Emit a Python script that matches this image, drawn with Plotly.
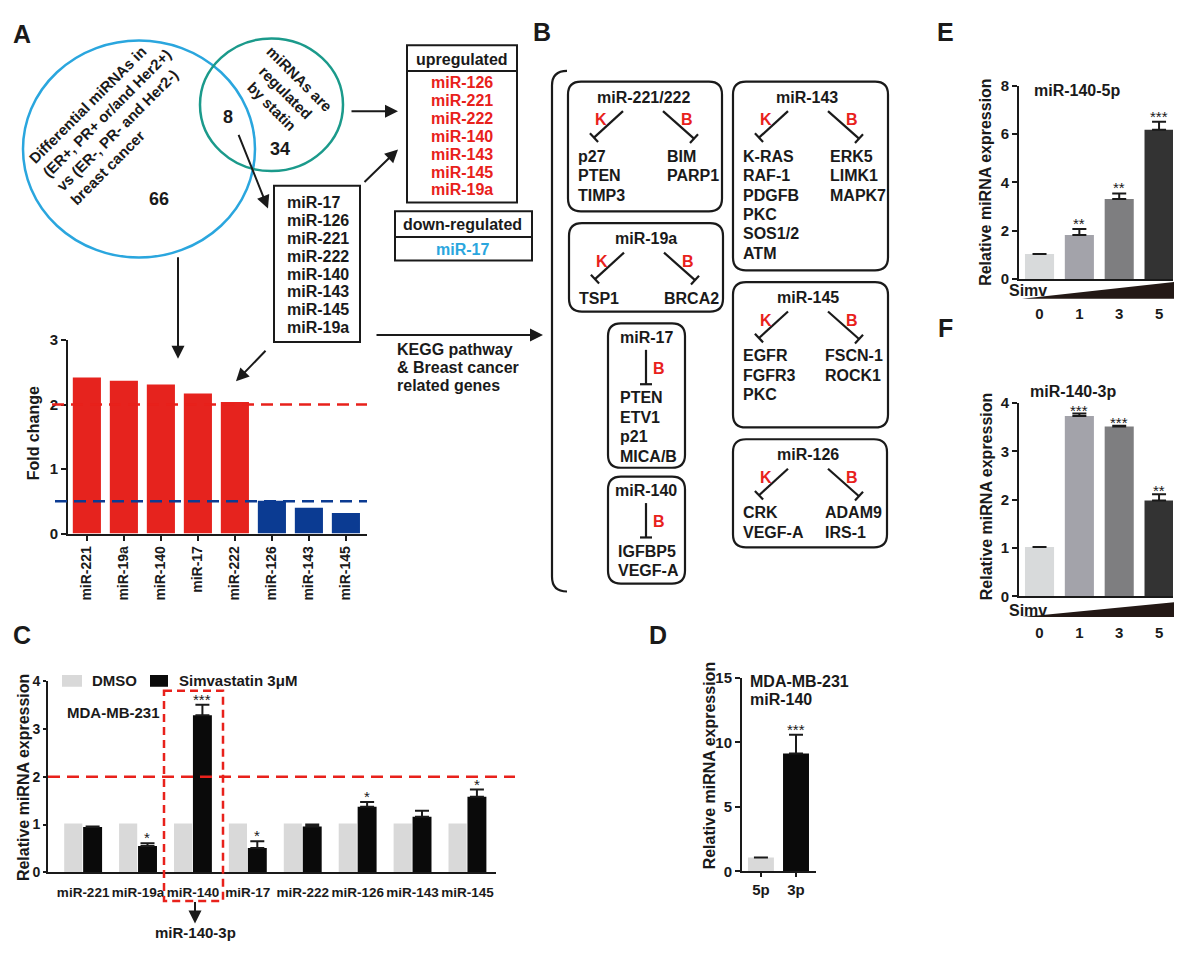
import math
import plotly.graph_objects as go

W, H = 1200, 959
FONT = "Liberation Sans, Arial, Helvetica, sans-serif"
INK = "#1a1a1a"
RED = "#e8211b"
BAR_RED = "#e6231e"
BAR_BLUE = "#0b3b92"
LBLUE = "#2aa6de"
TEAL = "#1b9a8b"

# ---------------- data ----------------
venn_left_label = ["Differential miRNAs in", "(ER+, PR+ or/and Her2+)",
                   "vs (ER-, PR- and Her2-)", "breast cancer"]
venn_right_label = ["miRNAs are", "regulated", "by statin"]
venn_left_only = 66
venn_overlap = 8
venn_right_only = 34
overlap_mirnas = ["miR-17", "miR-126", "miR-221", "miR-222",
                  "miR-140", "miR-143", "miR-145", "miR-19a"]
up_mirnas = ["miR-126", "miR-221", "miR-222", "miR-140", "miR-143", "miR-145", "miR-19a"]
down_mirnas = ["miR-17"]
kegg_label = ["KEGG pathway", "& Breast cancer", "related genes"]

a_mirnas = ["miR-221", "miR-19a", "miR-140", "miR-17", "miR-222", "miR-126", "miR-143", "miR-145"]
a_fold = [2.42, 2.37, 2.31, 2.17, 2.04, 0.51, 0.40, 0.32]
a_up_cut = 2.0
a_down_cut = 0.5

c_mirnas = ["miR-221", "miR-19a", "miR-140", "miR-17", "miR-222", "miR-126", "miR-143", "miR-145"]
c_dmso = [1.02, 1.02, 1.02, 1.02, 1.02, 1.02, 1.02, 1.02]
c_simv = [0.95, 0.55, 3.28, 0.51, 0.96, 1.37, 1.16, 1.58]
c_simv_err = [0.01, 0.06, 0.22, 0.14, 0.04, 0.10, 0.13, 0.15]
c_sig = ["", "*", "***", "*", "", "*", "", "*"]
c_cut = 2.0

d_arms = ["5p", "3p"]
d_vals = [1.08, 9.15]
d_err = [0.0, 1.45]
d_sig = ["", "***"]

e_dose = ["0", "1", "3", "5"]
e_vals = [1.04, 1.82, 3.31, 6.18]
e_err = [0.0, 0.25, 0.23, 0.33]
e_sig = ["", "**", "**", "***"]

f_dose = ["0", "1", "3", "5"]
f_vals = [1.02, 3.73, 3.51, 1.98]
f_err = [0.0, 0.05, 0.02, 0.13]
f_sig = ["", "***", "***", "**"]

b221_title, b221_k, b221_b = "miR-221/222", ["p27", "PTEN", "TIMP3"], ["BIM", "PARP1"]
b143_title, b143_k, b143_b = "miR-143", ["K-RAS", "RAF-1", "PDGFB", "PKC", "SOS1/2", "ATM"], ["ERK5", "LIMK1", "MAPK7"]
b19a_title, b19a_k, b19a_b = "miR-19a", ["TSP1"], ["BRCA2"]
b145_title, b145_k, b145_b = "miR-145", ["EGFR", "FGFR3", "PKC"], ["FSCN-1", "ROCK1"]
b126_title, b126_k, b126_b = "miR-126", ["CRK", "VEGF-A"], ["ADAM9", "IRS-1"]
b17_title, b17_b = "miR-17", ["PTEN", "ETV1", "p21", "MICA/B"]
b140_title, b140_b = "miR-140", ["IGFBP5", "VEGF-A"]

# ---------------- helpers ----------------
shapes = []
annotations = []


def X(x):
    return x / W


def Y(y):
    return 1 - y / H


def fnt(size=16, color=INK):
    return dict(family=FONT, size=size, color=color, weight="bold")


def text(x, y, s, size=16, color=INK, xanchor="center", yanchor="middle", angle=0, align="center"):
    annotations.append(dict(x=X(x), y=Y(y), xref="paper", yref="paper", text=s, showarrow=False,
                            font=fnt(size, color), xanchor=xanchor, yanchor=yanchor,
                            textangle=angle, align=align))


def line(x0, y0, x1, y1, color=INK, width=2, dash="solid"):
    shapes.append(dict(type="line", xref="paper", yref="paper", x0=X(x0), y0=Y(y0), x1=X(x1), y1=Y(y1),
                       line=dict(color=color, width=width, dash=dash), layer="above"))


def arrow(x0, y0, x1, y1, width=2):
    annotations.append(dict(x=X(x1), y=Y(y1), xref="paper", yref="paper", ax=x0 - x1, ay=y0 - y1,
                            axref="pixel", ayref="pixel", showarrow=True, arrowhead=2, arrowsize=1.3,
                            arrowwidth=width, arrowcolor=INK, text=""))


def rect(x0, y0, x1, y1, width=2, color=INK, dash="solid", fill=None):
    d = dict(type="rect", xref="paper", yref="paper", x0=X(x0), y0=Y(y0), x1=X(x1), y1=Y(y1),
             line=dict(color=color, width=width, dash=dash), layer="above")
    if fill:
        d["fillcolor"] = fill
    shapes.append(d)


def pt(x, y):
    return f"{X(x):.5f},{Y(y):.5f}"


def rrect(x0, y0, x1, y1, r=13, width=2.2):
    p = (f"M{pt(x0 + r, y0)} L{pt(x1 - r, y0)} Q{pt(x1, y0)} {pt(x1, y0 + r)} "
         f"L{pt(x1, y1 - r)} Q{pt(x1, y1)} {pt(x1 - r, y1)} L{pt(x0 + r, y1)} "
         f"Q{pt(x0, y1)} {pt(x0, y1 - r)} L{pt(x0, y0 + r)} Q{pt(x0, y0)} {pt(x0 + r, y0)} Z")
    shapes.append(dict(type="path", xref="paper", yref="paper", path=p,
                       line=dict(color=INK, width=width), layer="above"))


def tbar(x0, y0, x1, y1, half=6, width=2.2):
    line(x0, y0, x1, y1, width=width)
    dx, dy = x1 - x0, y1 - y0
    L = math.hypot(dx, dy)
    nx, ny = -dy / L, dx / L
    line(x1 - nx * half, y1 - ny * half, x1 + nx * half, y1 + ny * half, width=width)


def split_box(x0, y0, x1, y1, title, kg, bg, right_x, title_x=None, gene_y=76):
    rrect(x0, y0, x1, y1)
    text(title_x if title_x else (x0 + x1) / 2, y0 + 16, title)
    tbar(x0 + 55, y0 + 30, x0 + 26, y0 + 57)
    tbar(x0 + 95, y0 + 30, x0 + 126, y0 + 58)
    text(x0 + 33, y0 + 39, "K", color=RED)
    text(x0 + 119, y0 + 39, "B", color=RED)
    for i, g in enumerate(kg):
        text(x0 + 8, y0 + gene_y + 19.7 * i, g, xanchor="left")
    for i, g in enumerate(bg):
        text(right_x, y0 + gene_y + 19.7 * i, g, xanchor="left")


def single_box(x0, y0, x1, y1, title, bg, gx):
    rrect(x0, y0, x1, y1)
    cx = 646
    text(cx, y0 + 14, title)
    tbar(cx, y0 + 27, cx, y0 + 62)
    text(cx + 5, y0 + 46, "B", color=RED, xanchor="left")
    for i, g in enumerate(bg):
        text(gx, y0 + 76 + 19.7 * i, g, xanchor="left")


# ---------------- panel letters ----------------
for lx, ly, s in [(22, 25, "A"), (542, 23, "B"), (945, 23, "E"), (945, 325, "F"), (22, 637, "C"), (658, 637, "D")]:
    text(lx, ly, s, size=25)

# ---------------- panel A diagram ----------------
shapes.append(dict(type="circle", xref="paper", yref="paper", x0=X(23), x1=X(255), y0=Y(253), y1=Y(32),
                   line=dict(color=LBLUE, width=2.5)))
shapes.append(dict(type="circle", xref="paper", yref="paper", x0=X(200), x1=X(343), y0=Y(165), y1=Y(30),
                   line=dict(color=TEAL, width=2.5)))
text(114, 113, "<br>".join(venn_left_label), size=15, angle=-45, align="left")
text(285, 85, "<br>".join(venn_right_label), size=15, angle=45)
text(228, 110, str(venn_overlap), size=18)
text(280, 143, str(venn_right_only), size=18)
text(159, 193, str(venn_left_only), size=18)

rect(274, 180, 360, 339)
for i, m in enumerate(overlap_mirnas):
    text(285, 197 + 18.2 * i, m, xanchor="left")

rect(407, 37, 517, 197)
line(407, 63, 517, 63)
text(462, 51, "upregulated")
for i, m in enumerate(up_mirnas):
    text(462, 75 + 18.2 * i, m, color=RED)
rect(395, 206, 532, 256)
line(395, 232, 532, 232)
text(463, 219, "down-regulated")
for i, m in enumerate(down_mirnas):
    text(463, 245 + 18 * i, m, color=LBLUE)

arrow(350, 104, 398, 104)
arrow(363, 177, 398, 143)
arrow(238, 128, 268, 203)
arrow(178, 253, 178, 356)
arrow(267, 347, 236, 379)
arrow(375, 332, 543, 332)
for i, s in enumerate(kegg_label):
    text(395, 347 + 18 * i, s, xanchor="left")

# ---------------- panel B diagram ----------------
r = 15
bp = (f"M{pt(567, 63)} L{pt(552 + r, 63)} Q{pt(552, 63)} {pt(552, 63 + r)} L{pt(552, 593 - r)} "
      f"Q{pt(552, 593)} {pt(552 + r, 593)} L{pt(567, 593)}")
shapes.append(dict(type="path", xref="paper", yref="paper", path=bp, line=dict(color=INK, width=2.2)))

split_box(568, 74, 722, 206, b221_title, b221_k, b221_b, 665, title_x=643)
split_box(733, 74, 888, 266, b143_title, b143_k, b143_b, 828, title_x=807)
split_box(569, 218, 723, 308, b19a_title, b19a_k, b19a_b, 662, title_x=646, gene_y=77)
split_box(733, 278, 888, 426, b145_title, b145_k, b145_b, 823, title_x=808, gene_y=75)
split_box(733, 438, 887, 548, b126_title, b126_k, b126_b, 823, title_x=808, gene_y=75)
single_box(608, 320, 685, 467, b17_title, b17_b, 618)
single_box(608, 476, 685, 585, b140_title, b140_b, 616)

# ---------------- charts ----------------
fig = go.Figure()

fig.add_trace(go.Bar(x=a_mirnas, y=a_fold, width=0.76,
                     marker=dict(color=[BAR_RED if v > 1 else BAR_BLUE for v in a_fold], line_width=0),
                     xaxis="x", yaxis="y", showlegend=False))

fig.add_trace(go.Bar(name="DMSO", x=c_mirnas, y=c_dmso, width=0.33, offset=-0.345,
                     marker=dict(color="#d9d9d9", line_width=0), xaxis="x2", yaxis="y2", showlegend=False))
fig.add_trace(go.Bar(name="Simvastatin 3μM", x=c_mirnas, y=c_simv, width=0.345, offset=0.0,
                     marker=dict(color="#0a0a0a", line_width=0),
                     error_y=dict(type="data", array=c_simv_err, arrayminus=[0] * len(c_simv), symmetric=False,
                                  color=INK, thickness=2, width=7),
                     xaxis="x2", yaxis="y2", showlegend=False))

fig.add_trace(go.Bar(x=d_arms, y=d_vals, width=0.74,
                     marker=dict(color=["#d9d9d9", "#0a0a0a"], line_width=0),
                     error_y=dict(type="data", array=d_err, arrayminus=[0] * len(d_err), symmetric=False,
                                  color=INK, thickness=2, width=7),
                     xaxis="x3", yaxis="y3", showlegend=False))

grad = ["#d8dadb", "#a3a3aa", "#7e7e80", "#333333"]
fig.add_trace(go.Bar(x=e_dose, y=e_vals, width=0.73, marker=dict(color=grad, line_width=0),
                     error_y=dict(type="data", array=e_err, arrayminus=[0] * len(e_err), symmetric=False,
                                  color=INK, thickness=2, width=7),
                     xaxis="x4", yaxis="y4", showlegend=False))
fig.add_trace(go.Bar(x=f_dose, y=f_vals, width=0.73, marker=dict(color=grad, line_width=0),
                     error_y=dict(type="data", array=f_err, arrayminus=[0] * len(f_err), symmetric=False,
                                  color=INK, thickness=2, width=7),
                     xaxis="x5", yaxis="y5", showlegend=False))


# significance stars
def stars(sig, vals, errs, xr, yr, dx=0.0, ys=-5):
    for i, s in enumerate(sig):
        if s:
            annotations.append(dict(x=i + dx, y=vals[i] + errs[i], xref=xr, yref=yr, text=s,
                                    showarrow=False, font=dict(family=FONT, size=15, color=INK),
                                    yanchor="bottom", yshift=ys))


stars(c_sig, c_simv, c_simv_err, "x2", "y2", dx=0.17)
stars(d_sig, d_vals, d_err, "x3", "y3")
stars(e_sig, e_vals, e_err, "x4", "y4")
stars(f_sig, f_vals, f_err, "x5", "y5", ys=-7)

# threshold lines
shapes.append(dict(type="line", xref="paper", yref="y", x0=X(52), x1=X(367), y0=a_up_cut, y1=a_up_cut,
                   line=dict(color=RED, width=2.5, dash="12px,7px"), layer="above"))
shapes.append(dict(type="line", xref="paper", yref="y", x0=X(55), x1=X(367), y0=a_down_cut, y1=a_down_cut,
                   line=dict(color=BAR_BLUE, width=2.5, dash="12px,7px"), layer="above"))
shapes.append(dict(type="line", xref="paper", yref="y2", x0=X(48), x1=X(515), y0=c_cut, y1=c_cut,
                   line=dict(color=RED, width=2.5, dash="12px,7px"), layer="above"))
rect(164, 694, 223, 908, width=2.5, color=RED, dash="8px,5px")
arrow(195, 908, 195, 931)
text(195, 940, "miR-140-3p", size=15)

# C legend & labels
rect(62, 678, 82, 690, width=0, fill="#d9d9d9")
text(90, 684, "DMSO", size=15, xanchor="left")
rect(150, 678, 168, 690, width=0, fill="#0a0a0a")
text(177, 684, "Simvastatin 3μM", size=15, xanchor="left")
text(65, 716, "MDA-MB-231", size=15, xanchor="left")

# D labels
text(748, 685, "MDA-MB-231", xanchor="left")
text(748, 703, "miR-140", xanchor="left")

# E/F labels and triangles
text(1032, 83, "miR-140-5p", xanchor="left")
text(1028, 389, "miR-140-3p", xanchor="left")
for yb, yt, ys in [(295, 278, 287), (619, 604, 612)]:
    shapes.append(dict(type="path", xref="paper", yref="paper",
                       path=f"M{pt(1022, yb)} L{pt(1174, yb)} L{pt(1174, yt)} Z",
                       fillcolor="#231815", line=dict(width=0)))
    text(1007, ys, "Simv", xanchor="left")

# y-axis titles
text(33, 432, "Fold change", angle=-90)
text(23, 783, "Relative miRNA expression", angle=-90)
text(709, 771, "Relative miRNA expression", angle=-90)
text(986, 177, "Relative miRNA expression", angle=-90)
text(986, 497, "Relative miRNA expression", angle=-90)


# ---------------- axes ----------------
def xax(x0, x1, rng, **kw):
    d = dict(domain=[X(x0), X(x1)], range=rng, type="category", showline=True, linecolor=INK, linewidth=2,
             showgrid=False, zeroline=False, tickfont=fnt(15), fixedrange=True)
    d.update(kw)
    return d


def yax(ybot, ytop, rng, tickvals, **kw):
    d = dict(domain=[Y(ybot), Y(ytop)], range=rng, tickvals=tickvals, showline=True, linecolor=INK,
             linewidth=2, ticks="outside", ticklen=5, tickwidth=2, tickcolor=INK, showgrid=False,
             zeroline=False, tickfont=fnt(15), fixedrange=True)
    d.update(kw)
    return d


fig.update_layout(
    width=W, height=H, margin=dict(l=0, r=0, t=0, b=0),
    paper_bgcolor="white", plot_bgcolor="rgba(0,0,0,0)",
    barmode="overlay", showlegend=False,
    font=dict(family=FONT, color=INK),
    xaxis=xax(68, 367, [-0.51, 7.57], anchor="y", tickangle=-90, ticks="outside", ticklen=5, tickwidth=2,
              tickcolor=INK, tickfont=fnt(14)),
    yaxis=yax(534, 337, [0, 3], [0, 1, 2, 3], anchor="x"),
    xaxis2=xax(48, 496, [-0.64, 7.52], anchor="y2", ticks="", tickangle=0, tickfont=fnt(13.5),
               ticklabelstandoff=6),
    yaxis2=yax(879, 684, [0, 4], [0, 1, 2, 3, 4], anchor="x2", ticklen=3, tickfont=fnt(14)),
    xaxis3=xax(742, 816, [-0.54, 1.57], anchor="y3", ticks="outside", ticklen=4, tickwidth=2, tickcolor=INK,
               tickangle=0, tickfont=fnt(15)),
    yaxis3=yax(878, 681, [0, 15], [0, 5, 10, 15], anchor="x3"),
    xaxis4=xax(1019, 1173, [-0.515, 3.35], anchor="y4", ticks="", tickangle=0, ticklabelstandoff=20),
    yaxis4=yax(275, 78, [0, 8], [0, 2, 4, 6, 8], anchor="x4"),
    xaxis5=xax(1019, 1173, [-0.515, 3.35], anchor="y5", ticks="", tickangle=0, ticklabelstandoff=22),
    yaxis5=yax(598, 401, [0, 4], [0, 1, 2, 3, 4], anchor="x5"),
    shapes=shapes, annotations=annotations,
)

fig.write_html("out.html", config={"displayModeBar": False},
               post_script="document.body.style.margin='0px';")
